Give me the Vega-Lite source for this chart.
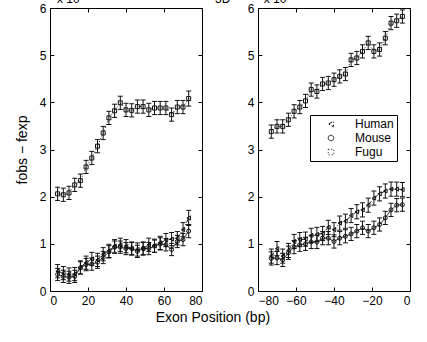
{
  "$schema": "https://vega.github.io/schema/vega-lite/v6.json",
  "padding": {"left": 14, "top": -8, "right": 5, "bottom": 5},
  "background": "white",
  "bounds": "flush",
  "spacing": 56,
  "config": {
    "font": "Liberation Sans",
    "view": {"stroke": "black", "strokeWidth": 1},
    "axis": {"domain": false, "grid": false, "tickSize": -4, "tickColor": "black", "labelColor": "black", "labelFontSize": 12, "labelPadding": 8, "titleColor": "black", "titleFontWeight": "normal"}
  },
  "datasets": {
    "d": [
      {"p":"L","s":"Fugu","x":4,"y":2.06,"e":0.14},{"p":"L","s":"Fugu","x":7,"y":2.04,"e":0.14},{"p":"L","s":"Fugu","x":10,"y":2.08,"e":0.14},{"p":"L","s":"Fugu","x":13,"y":2.25,"e":0.14},{"p":"L","s":"Fugu","x":16,"y":2.34,"e":0.14},{"p":"L","s":"Fugu","x":19,"y":2.63,"e":0.14},{"p":"L","s":"Fugu","x":22,"y":2.82,"e":0.14},{"p":"L","s":"Fugu","x":25,"y":3.07,"e":0.14},{"p":"L","s":"Fugu","x":28,"y":3.35,"e":0.14},{"p":"L","s":"Fugu","x":31,"y":3.67,"e":0.14},{"p":"L","s":"Fugu","x":34,"y":3.82,"e":0.14},{"p":"L","s":"Fugu","x":37,"y":3.99,"e":0.14},{"p":"L","s":"Fugu","x":40,"y":3.84,"e":0.14},{"p":"L","s":"Fugu","x":43,"y":3.83,"e":0.14},{"p":"L","s":"Fugu","x":46,"y":3.91,"e":0.14},{"p":"L","s":"Fugu","x":49,"y":3.91,"e":0.14},{"p":"L","s":"Fugu","x":52,"y":3.84,"e":0.14},{"p":"L","s":"Fugu","x":55,"y":3.88,"e":0.14},{"p":"L","s":"Fugu","x":58,"y":3.88,"e":0.14},{"p":"L","s":"Fugu","x":61,"y":3.88,"e":0.14},{"p":"L","s":"Fugu","x":64,"y":3.74,"e":0.14},{"p":"L","s":"Fugu","x":67,"y":3.9,"e":0.14},{"p":"L","s":"Fugu","x":70,"y":3.9,"e":0.14},{"p":"L","s":"Fugu","x":73,"y":4.08,"e":0.16},
      {"p":"L","s":"Mouse","x":4,"y":0.35,"e":0.13},{"p":"L","s":"Mouse","x":7,"y":0.31,"e":0.13},{"p":"L","s":"Mouse","x":10,"y":0.29,"e":0.13},{"p":"L","s":"Mouse","x":13,"y":0.31,"e":0.13},{"p":"L","s":"Mouse","x":16,"y":0.49,"e":0.13},{"p":"L","s":"Mouse","x":19,"y":0.56,"e":0.13},{"p":"L","s":"Mouse","x":22,"y":0.57,"e":0.13},{"p":"L","s":"Mouse","x":25,"y":0.61,"e":0.13},{"p":"L","s":"Mouse","x":28,"y":0.71,"e":0.13},{"p":"L","s":"Mouse","x":31,"y":0.83,"e":0.13},{"p":"L","s":"Mouse","x":34,"y":0.93,"e":0.13},{"p":"L","s":"Mouse","x":37,"y":0.93,"e":0.13},{"p":"L","s":"Mouse","x":40,"y":0.9,"e":0.13},{"p":"L","s":"Mouse","x":43,"y":0.9,"e":0.13},{"p":"L","s":"Mouse","x":46,"y":0.84,"e":0.13},{"p":"L","s":"Mouse","x":49,"y":0.9,"e":0.13},{"p":"L","s":"Mouse","x":52,"y":0.9,"e":0.13},{"p":"L","s":"Mouse","x":55,"y":0.95,"e":0.13},{"p":"L","s":"Mouse","x":58,"y":1.0,"e":0.13},{"p":"L","s":"Mouse","x":61,"y":0.98,"e":0.13},{"p":"L","s":"Mouse","x":64,"y":0.88,"e":0.13},{"p":"L","s":"Mouse","x":67,"y":1.05,"e":0.13},{"p":"L","s":"Mouse","x":70,"y":1.09,"e":0.13},{"p":"L","s":"Mouse","x":73,"y":1.27,"e":0.14},
      {"p":"L","s":"Human","x":4,"y":0.42,"e":0.14},{"p":"L","s":"Human","x":7,"y":0.38,"e":0.14},{"p":"L","s":"Human","x":10,"y":0.35,"e":0.14},{"p":"L","s":"Human","x":13,"y":0.36,"e":0.14},{"p":"L","s":"Human","x":16,"y":0.5,"e":0.14},{"p":"L","s":"Human","x":19,"y":0.6,"e":0.14},{"p":"L","s":"Human","x":22,"y":0.68,"e":0.14},{"p":"L","s":"Human","x":25,"y":0.66,"e":0.14},{"p":"L","s":"Human","x":28,"y":0.78,"e":0.14},{"p":"L","s":"Human","x":31,"y":0.85,"e":0.14},{"p":"L","s":"Human","x":34,"y":0.95,"e":0.14},{"p":"L","s":"Human","x":37,"y":0.98,"e":0.14},{"p":"L","s":"Human","x":40,"y":0.95,"e":0.14},{"p":"L","s":"Human","x":43,"y":0.9,"e":0.14},{"p":"L","s":"Human","x":46,"y":0.88,"e":0.14},{"p":"L","s":"Human","x":49,"y":0.9,"e":0.14},{"p":"L","s":"Human","x":52,"y":0.98,"e":0.14},{"p":"L","s":"Human","x":55,"y":0.96,"e":0.14},{"p":"L","s":"Human","x":58,"y":1.02,"e":0.14},{"p":"L","s":"Human","x":61,"y":1.08,"e":0.14},{"p":"L","s":"Human","x":64,"y":1.1,"e":0.14},{"p":"L","s":"Human","x":67,"y":1.12,"e":0.14},{"p":"L","s":"Human","x":70,"y":1.3,"e":0.15},{"p":"L","s":"Human","x":73,"y":1.55,"e":0.16},
      {"p":"R","s":"Fugu","x":-73,"y":3.38,"e":0.14},{"p":"R","s":"Fugu","x":-70,"y":3.49,"e":0.14},{"p":"R","s":"Fugu","x":-67,"y":3.49,"e":0.14},{"p":"R","s":"Fugu","x":-64,"y":3.63,"e":0.14},{"p":"R","s":"Fugu","x":-61,"y":3.81,"e":0.14},{"p":"R","s":"Fugu","x":-58,"y":3.9,"e":0.14},{"p":"R","s":"Fugu","x":-55,"y":4.03,"e":0.14},{"p":"R","s":"Fugu","x":-52,"y":4.27,"e":0.14},{"p":"R","s":"Fugu","x":-49,"y":4.23,"e":0.14},{"p":"R","s":"Fugu","x":-46,"y":4.39,"e":0.14},{"p":"R","s":"Fugu","x":-43,"y":4.41,"e":0.14},{"p":"R","s":"Fugu","x":-40,"y":4.48,"e":0.14},{"p":"R","s":"Fugu","x":-37,"y":4.55,"e":0.14},{"p":"R","s":"Fugu","x":-34,"y":4.6,"e":0.14},{"p":"R","s":"Fugu","x":-31,"y":4.9,"e":0.14},{"p":"R","s":"Fugu","x":-28,"y":4.94,"e":0.14},{"p":"R","s":"Fugu","x":-25,"y":5.08,"e":0.14},{"p":"R","s":"Fugu","x":-22,"y":5.26,"e":0.14},{"p":"R","s":"Fugu","x":-19,"y":5.08,"e":0.14},{"p":"R","s":"Fugu","x":-16,"y":5.12,"e":0.14},{"p":"R","s":"Fugu","x":-13,"y":5.36,"e":0.14},{"p":"R","s":"Fugu","x":-10,"y":5.68,"e":0.14},{"p":"R","s":"Fugu","x":-7,"y":5.73,"e":0.14},{"p":"R","s":"Fugu","x":-4,"y":5.82,"e":0.14},
      {"p":"R","s":"Mouse","x":-73,"y":0.69,"e":0.14},{"p":"R","s":"Mouse","x":-70,"y":0.7,"e":0.14},{"p":"R","s":"Mouse","x":-67,"y":0.66,"e":0.14},{"p":"R","s":"Mouse","x":-64,"y":0.81,"e":0.14},{"p":"R","s":"Mouse","x":-61,"y":0.93,"e":0.14},{"p":"R","s":"Mouse","x":-58,"y":0.98,"e":0.14},{"p":"R","s":"Mouse","x":-55,"y":1.0,"e":0.14},{"p":"R","s":"Mouse","x":-52,"y":1.04,"e":0.14},{"p":"R","s":"Mouse","x":-49,"y":1.04,"e":0.14},{"p":"R","s":"Mouse","x":-46,"y":1.12,"e":0.14},{"p":"R","s":"Mouse","x":-43,"y":1.12,"e":0.14},{"p":"R","s":"Mouse","x":-40,"y":1.05,"e":0.14},{"p":"R","s":"Mouse","x":-37,"y":1.12,"e":0.14},{"p":"R","s":"Mouse","x":-34,"y":1.16,"e":0.14},{"p":"R","s":"Mouse","x":-31,"y":1.21,"e":0.14},{"p":"R","s":"Mouse","x":-28,"y":1.27,"e":0.14},{"p":"R","s":"Mouse","x":-25,"y":1.34,"e":0.14},{"p":"R","s":"Mouse","x":-22,"y":1.27,"e":0.14},{"p":"R","s":"Mouse","x":-19,"y":1.34,"e":0.14},{"p":"R","s":"Mouse","x":-16,"y":1.41,"e":0.14},{"p":"R","s":"Mouse","x":-13,"y":1.55,"e":0.14},{"p":"R","s":"Mouse","x":-10,"y":1.72,"e":0.14},{"p":"R","s":"Mouse","x":-7,"y":1.82,"e":0.14},{"p":"R","s":"Mouse","x":-4,"y":1.83,"e":0.14},
      {"p":"R","s":"Human","x":-73,"y":0.74,"e":0.15},{"p":"R","s":"Human","x":-70,"y":0.9,"e":0.15},{"p":"R","s":"Human","x":-67,"y":0.74,"e":0.15},{"p":"R","s":"Human","x":-64,"y":0.86,"e":0.15},{"p":"R","s":"Human","x":-61,"y":1.05,"e":0.15},{"p":"R","s":"Human","x":-58,"y":1.09,"e":0.15},{"p":"R","s":"Human","x":-55,"y":1.1,"e":0.15},{"p":"R","s":"Human","x":-52,"y":1.18,"e":0.15},{"p":"R","s":"Human","x":-49,"y":1.2,"e":0.15},{"p":"R","s":"Human","x":-46,"y":1.22,"e":0.15},{"p":"R","s":"Human","x":-43,"y":1.35,"e":0.15},{"p":"R","s":"Human","x":-40,"y":1.3,"e":0.15},{"p":"R","s":"Human","x":-37,"y":1.44,"e":0.15},{"p":"R","s":"Human","x":-34,"y":1.48,"e":0.15},{"p":"R","s":"Human","x":-31,"y":1.6,"e":0.15},{"p":"R","s":"Human","x":-28,"y":1.68,"e":0.15},{"p":"R","s":"Human","x":-25,"y":1.72,"e":0.15},{"p":"R","s":"Human","x":-22,"y":1.82,"e":0.15},{"p":"R","s":"Human","x":-19,"y":1.97,"e":0.15},{"p":"R","s":"Human","x":-16,"y":2.06,"e":0.15},{"p":"R","s":"Human","x":-13,"y":2.12,"e":0.15},{"p":"R","s":"Human","x":-10,"y":2.16,"e":0.15},{"p":"R","s":"Human","x":-7,"y":2.16,"e":0.15},{"p":"R","s":"Human","x":-4,"y":2.15,"e":0.15}
    ]
  },
  "title": {"text": "Exon Position (bp)", "orient": "bottom", "anchor": "middle", "fontSize": 14, "fontWeight": "normal", "color": "black", "offset": 4},
  "hconcat": [
    {
      "width": 152, "height": 283,
      "title": {"text": "x 10", "anchor": "start", "frame": "group", "fontSize": 12, "fontWeight": "normal", "color": "black", "offset": 0, "dy": 4, "dx": 7},
      "data": {"name": "d"},
      "transform": [{"filter": "datum.p == 'L'"}],
      "resolve": {"axis": {"x": "independent", "y": "independent"}},
      "layer": [
        {
          "mark": {"type": "errorbar", "ticks": true, "color": "#111", "thickness": 1, "opacity": 1},
          "encoding": {
            "x": {"field": "x", "type": "quantitative", "scale": {"domain": [0, 80]}, "axis": {"values": [0, 20, 40, 60, 80], "title": null}},
            "y": {"field": "y", "type": "quantitative", "scale": {"domain": [0, 6]}, "axis": {"values": [0, 1, 2, 3, 4, 5, 6], "title": "fobs − fexp", "titleFontSize": 14, "titlePadding": 10}},
            "yError": {"field": "e"},
            "detail": {"field": "s"}
          }
        },
        {
          "mark": {"type": "line", "color": "#111", "strokeWidth": 1},
          "encoding": {
            "x": {"field": "x", "type": "quantitative", "axis": null},
            "y": {"field": "y", "type": "quantitative", "axis": null},
            "strokeDash": {"field": "s", "type": "nominal", "scale": {"domain": ["Human", "Mouse", "Fugu"], "range": [[4, 2, 1, 2], [1, 0], [1, 2]]}, "legend": null}
          }
        },
        {
          "mark": {"type": "point", "filled": false, "color": "#111", "size": 16, "strokeWidth": 1, "opacity": 1},
          "encoding": {
            "x": {"field": "x", "type": "quantitative", "axis": null},
            "y": {"field": "y", "type": "quantitative", "axis": null},
            "shape": {"field": "s", "type": "nominal", "scale": {"domain": ["Human", "Mouse", "Fugu"], "range": ["triangle-left", "circle", "square"]}, "legend": null}
          }
        },
        {
          "mark": {"type": "point", "opacity": 0},
          "encoding": {
            "x": {"field": "x", "type": "quantitative", "axis": {"orient": "top", "values": [0, 20, 40, 60, 80], "labels": false, "title": null}},
            "y": {"field": "y", "type": "quantitative", "axis": {"orient": "right", "values": [0, 1, 2, 3, 4, 5, 6], "labels": false, "title": null}}
          }
        }
      ]
    },
    {
      "width": 152, "height": 283,
      "title": {"text": "3D\u00a0\u00a0\u00a0\u00a0\u00a0\u00a0\u00a0\u00a0\u00a0\u00a0x 10", "anchor": "start", "frame": "group", "fontSize": 12, "fontWeight": "normal", "color": "black", "offset": 0, "dy": 4, "dx": -43},
      "data": {"name": "d"},
      "transform": [{"filter": "datum.p == 'R'"}],
      "resolve": {"axis": {"x": "independent", "y": "independent"}},
      "layer": [
        {
          "mark": {"type": "errorbar", "ticks": true, "color": "#111", "thickness": 1, "opacity": 1},
          "encoding": {
            "x": {"field": "x", "type": "quantitative", "scale": {"domain": [-80, 0]}, "axis": {"values": [-80, -60, -40, -20, 0], "title": null}},
            "y": {"field": "y", "type": "quantitative", "scale": {"domain": [0, 6]}, "axis": {"values": [0, 1, 2, 3, 4, 5, 6], "title": null}},
            "yError": {"field": "e"},
            "detail": {"field": "s"}
          }
        },
        {
          "mark": {"type": "line", "color": "#111", "strokeWidth": 1},
          "encoding": {
            "x": {"field": "x", "type": "quantitative", "axis": null},
            "y": {"field": "y", "type": "quantitative", "axis": null},
            "strokeDash": {"field": "s", "type": "nominal", "scale": {"domain": ["Human", "Mouse", "Fugu"], "range": [[4, 2, 1, 2], [1, 0], [1, 2]]}}
          }
        },
        {
          "mark": {"type": "point", "filled": false, "color": "#111", "size": 16, "strokeWidth": 1, "opacity": 1},
          "encoding": {
            "x": {"field": "x", "type": "quantitative", "axis": null},
            "y": {"field": "y", "type": "quantitative", "axis": null},
            "shape": {"field": "s", "type": "nominal", "scale": {"domain": ["Human", "Mouse", "Fugu"], "range": ["triangle-left", "circle", "square"]},
              "legend": {"orient": "none", "legendX": 52, "legendY": 107, "title": null, "strokeColor": "black", "fillColor": "white", "padding": 3, "labelFontSize": 12, "labelColor": "black", "symbolSize": 30, "symbolOffset": 12, "labelOffset": 18, "rowPadding": 2, "symbolStrokeColor": "black", "symbolFillColor": "white", "symbolStrokeWidth": 1}
            }
          }
        },
        {
          "mark": {"type": "point", "opacity": 0},
          "encoding": {
            "x": {"field": "x", "type": "quantitative", "axis": {"orient": "top", "values": [-80, -60, -40, -20, 0], "labels": false, "title": null}},
            "y": {"field": "y", "type": "quantitative", "axis": {"orient": "right", "values": [0, 1, 2, 3, 4, 5, 6], "labels": false, "title": null}}
          }
        }
      ]
    }
  ],
  "resolve": {"scale": {"shape": "independent", "strokeDash": "independent"}, "legend": {"shape": "independent", "strokeDash": "independent"}}
}
